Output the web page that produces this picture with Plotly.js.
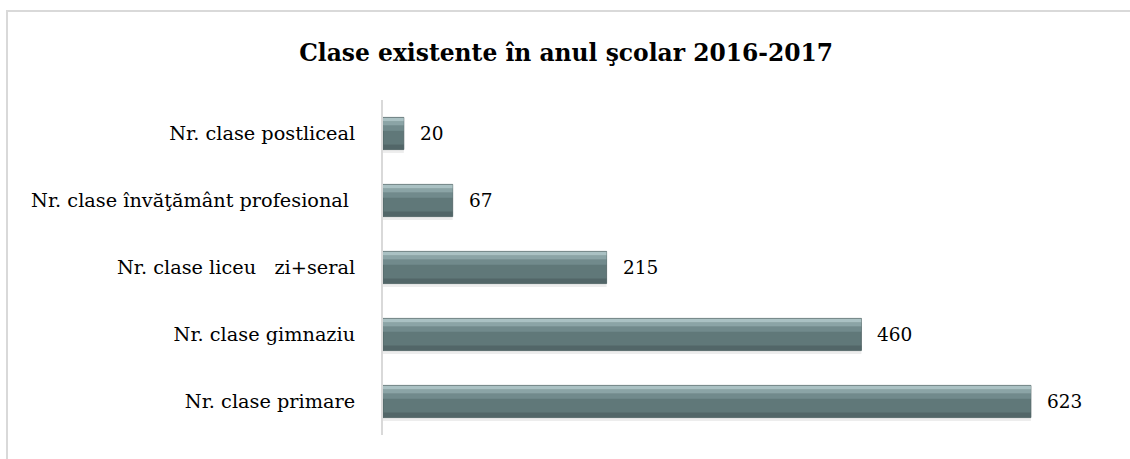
<!DOCTYPE html>
<html>
<head>
<meta charset="utf-8">
<script src="https://cdn.plot.ly/plotly-3.0.1.min.js"></script>
<style>
html,body{margin:0;padding:0;background:#fff;}
#chart{width:1130px;height:459px;}
</style>
</head>
<body>
<div id="chart"></div>
<script>
// Data (bottom to top)
const categories = [
  "Nr. clase primare",
  "Nr. clase gimnaziu",
  "Nr. clase liceu\u00a0\u00a0\u00a0zi+seral",
  "Nr. clase învăţământ profesional\u00a0",
  "Nr. clase postliceal"
];
const values = [623, 460, 215, 67, 20];
const chartTitle = "Clase existente în anul şcolar 2016-2017";

const serif = "'DejaVu Serif', 'Liberation Serif', serif";

function layer(offset, width, color, line) {
  return {
    type: "bar", orientation: "h",
    x: values, y: categories,
    offset: offset, width: width,
    marker: {color: color, line: line || {width: 0}},
    hoverinfo: "skip", showlegend: false
  };
}

const data = [
  layer(-0.29, 0.05, "#ededed"),
  layer(-0.24, 0.48, "#607879", {color: "#4d5f61", width: 0.8}),
  layer(-0.235, 0.07, "#526668"),
  layer(0.04, 0.08, "#718a8c"),
  layer(0.12, 0.06, "#8ba4a6"),
  layer(0.18, 0.055, "#aac1c3")
];

const annotations = values.map((v, i) => ({
  x: v, y: categories[i], xref: "x", yref: "y",
  text: String(v), showarrow: false,
  xanchor: "left", yanchor: "middle", xshift: 14,
  font: {family: serif, size: 18.5, color: "#000"}
}));

const L = 383, R = 19, T = 100, B = 24;
const pw = 1130 - L - R, ph = 459 - T - B;
function px(x) { return (x - L) / pw; }
function py(y) { return (459 - B - y) / ph; }

const layout = {
  width: 1130, height: 459,
  margin: {l: L, r: R, t: T, b: B},
  paper_bgcolor: "#fff", plot_bgcolor: "#fff",
  barmode: "overlay",
  title: {
    text: "<b>" + chartTitle + "</b>",
    x: 0.501, xanchor: "center", y: 1 - 53 / 459, yanchor: "middle",
    font: {family: serif, size: 23.4, color: "#000"}
  },
  xaxis: {range: [0, 700], visible: false, fixedrange: true},
  yaxis: {
    type: "category",
    showline: true, linecolor: "#d9d9d9", linewidth: 2,
    showgrid: false, zeroline: false,
    ticks: "", ticklabelstandoff: 22,
    tickfont: {family: serif, size: 19.3, color: "#000"},
    fixedrange: true
  },
  annotations: annotations,
  shapes: [{
    type: "rect", xref: "paper", yref: "paper",
    x0: px(7), x1: px(1140), y0: py(470), y1: py(11),
    line: {color: "#d9d9d9", width: 2}, fillcolor: "rgba(0,0,0,0)", layer: "below"
  }]
};

Plotly.newPlot("chart", data, layout, {displayModeBar: false, staticPlot: true});
</script>
</body>
</html>
